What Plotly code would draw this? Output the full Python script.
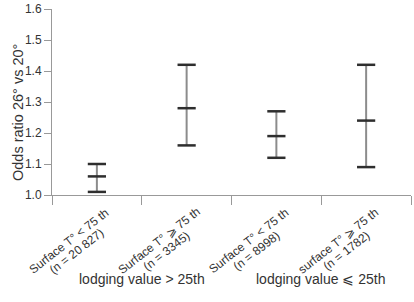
import plotly.graph_objects as go

label_line1 = ["Surface T° < 75 th", "Surface T° ⩾ 75 th",
               "Surface T° < 75 th", "surface T° ⩾ 75 th"]
label_line2 = ["(n = 20 827)", "(n = 3345)", "(n = 8998)", "(n = 1782)"]
odds_ratio = [1.06, 1.28, 1.19, 1.24]
ci_lower = [1.01, 1.16, 1.12, 1.09]
ci_upper = [1.10, 1.42, 1.27, 1.42]
group_labels = ["lodging value > 25th", "lodging value ⩽ 25th"]
y_ticks = [1.0, 1.1, 1.2, 1.3, 1.4, 1.5, 1.6]

x = list(range(1, len(label_line1) + 1))
FONT = "Liberation Sans, Arial, sans-serif"
TXT = "#333333"
AX = "#999999"

fig = go.Figure()
fig.add_trace(go.Scatter(
    x=x, y=odds_ratio, mode="markers",
    marker=dict(size=0.1, color="rgba(0,0,0,0)"),
    error_y=dict(type="data", symmetric=False,
                 array=[u - m for u, m in zip(ci_upper, odds_ratio)],
                 arrayminus=[m - l for m, l in zip(odds_ratio, ci_lower)],
                 color="#8c8c8c", thickness=2, width=0),
    hoverinfo="skip", showlegend=False))
for ys in (ci_lower, odds_ratio, ci_upper):
    fig.add_trace(go.Scatter(
        x=x, y=ys, mode="markers",
        marker=dict(symbol="line-ew", size=13,
                    line=dict(width=2.5, color="#2e2e2e")),
        showlegend=False))

ANG = -38
for xi, t1, t2 in zip(x, label_line1, label_line2):
    fig.add_annotation(x=xi, y=1.0, xref="x", yref="y", text=t1,
                       showarrow=False, textangle=ANG,
                       xanchor="center", yanchor="middle",
                       xshift=-28, yshift=-45.5,
                       font=dict(family=FONT, size=12, color=TXT))
    fig.add_annotation(x=xi, y=1.0, xref="x", yref="y", text=t2,
                       showarrow=False, textangle=ANG,
                       xanchor="center", yanchor="middle",
                       xshift=-20, yshift=-56,
                       font=dict(family=FONT, size=12, color=TXT))

for i, g in enumerate(group_labels):
    fig.add_annotation(x=2 * i + 1.5, y=1.0, xref="x", yref="y",
                       text=g, showarrow=False, yshift=-84,
                       font=dict(family=FONT, size=14, color=TXT),
                       xanchor="center", yanchor="middle")

fig.add_annotation(x=0, y=1.0, xref="paper", yref="y",
                   text="Odds ratio 26° vs 20°", showarrow=False,
                   textangle=-90, xshift=-34, yshift=82,
                   xanchor="center", yanchor="middle",
                   font=dict(family=FONT, size=14.5, color=TXT))

fig.update_layout(
    width=414, height=302,
    margin=dict(l=52, r=3, t=9, b=107),
    paper_bgcolor="white", plot_bgcolor="white",
    font=dict(family=FONT, color=TXT),
    xaxis=dict(range=[0.5, 4.5], tickvals=x, showticklabels=False,
               automargin=False,
               showgrid=False, zeroline=False, showline=True,
               linecolor=AX, linewidth=1,
               ticks="outside", ticklen=0, tickcolor="rgba(0,0,0,0)",
               minor=dict(tick0=0.5, dtick=1, ticks="outside",
                          ticklen=9, tickcolor=AX, tickwidth=1,
                          showgrid=False)),
    yaxis=dict(range=[1.0, 1.6], tickvals=y_ticks,
               ticktext=[f"{v:.1f}" for v in y_ticks],
               tickfont=dict(size=12, color=TXT), automargin=False,
               showgrid=False, zeroline=False, showline=True,
               linecolor=AX, linewidth=1,
               ticks="outside", ticklen=7, tickcolor=AX),
)

# remove the browser's default 8px body margin so the figure fills the window
fig.write_html("out.html",
               config={"displayModeBar": False, "staticPlot": True},
               post_script="document.body.style.margin='0';"
                           "document.body.style.overflow='hidden';")
